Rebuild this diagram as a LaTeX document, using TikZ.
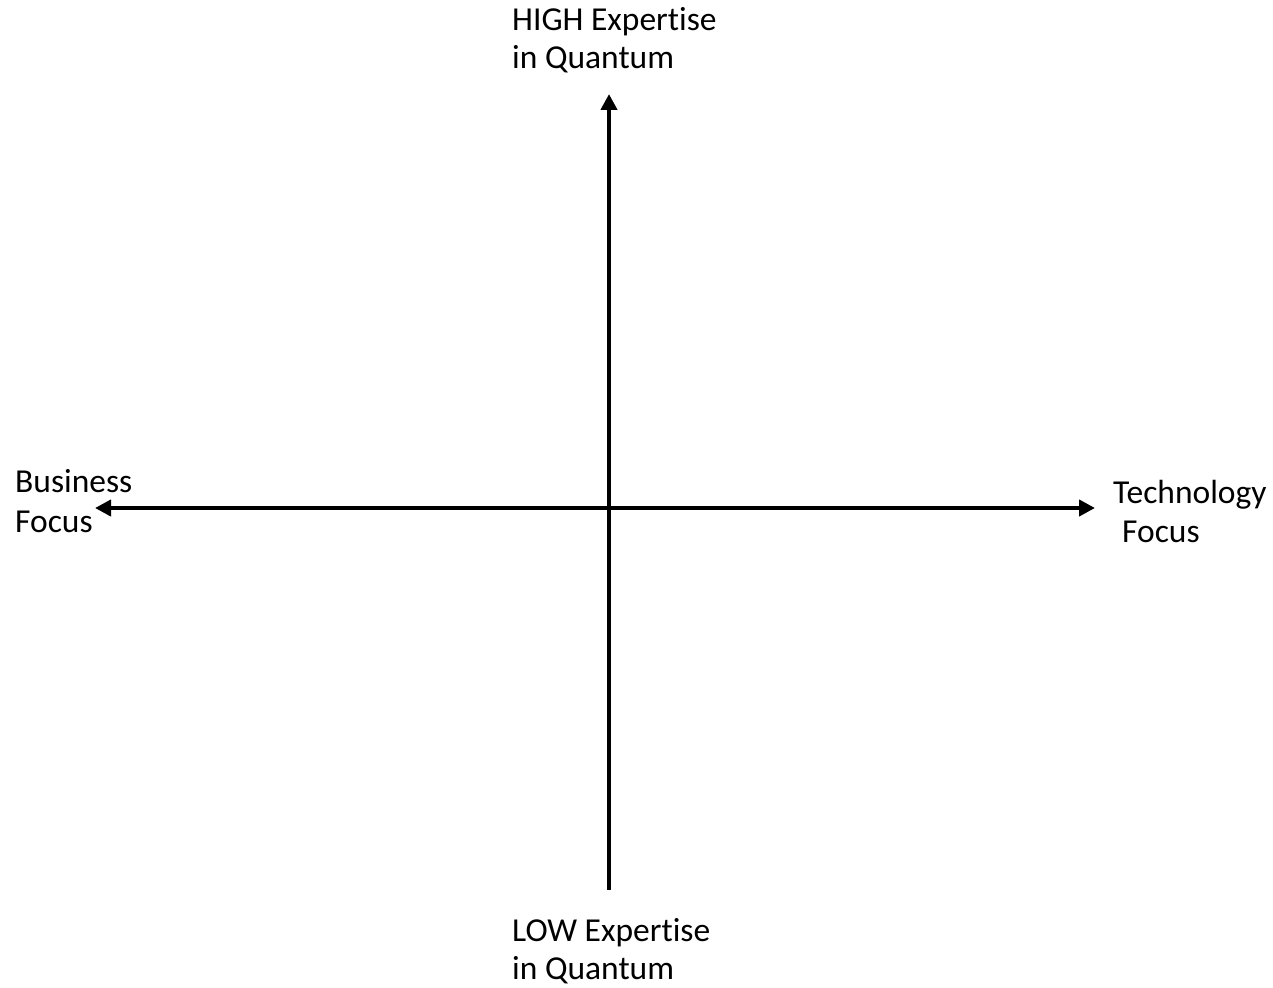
\documentclass[tikz,border=0pt]{standalone}
\usepackage{fontspec}
\setmainfont[Ligatures=NoCommon]{Carlito}
\usetikzlibrary{arrows.meta}
\begin{document}
\begin{tikzpicture}[x=1pt,y=-1pt,
  axis/.style={line width=4.8pt, draw=black},
  >={Triangle[length=16pt,width=16pt]},
  lbl/.style={anchor=base west, inner sep=0pt,
    font=\fontsize{33.5}{39}\selectfont}]
\useasboundingbox (0,0) rectangle (1273,987);
% axis end points
\coordinate (top) at (609,94);
\coordinate (bottom) at (609,890);
\coordinate (left) at (95,508);
\coordinate (right) at (1095,508);
% axes
\draw[axis,->] (bottom) -- (top);
\draw[axis,<->] (left) -- (right);
% labels, one node per line
\node[lbl] (high1) at (512,31) {HIGH Expertise};
\node[lbl] (high2) at (512,69) {in Quantum};
\node[lbl] (low1) at (512,941) {LOW Expertise};
\node[lbl] (low2) at (512,979) {in Quantum};
\node[lbl] (bus1) at (15,492) {Business};
\node[lbl] (bus2) at (15,532) {Focus};
\node[lbl] (tech1) at (1113,503) {Technology};
\node[lbl] (tech2) at (1122,542) {Focus};
\end{tikzpicture}
\end{document}
